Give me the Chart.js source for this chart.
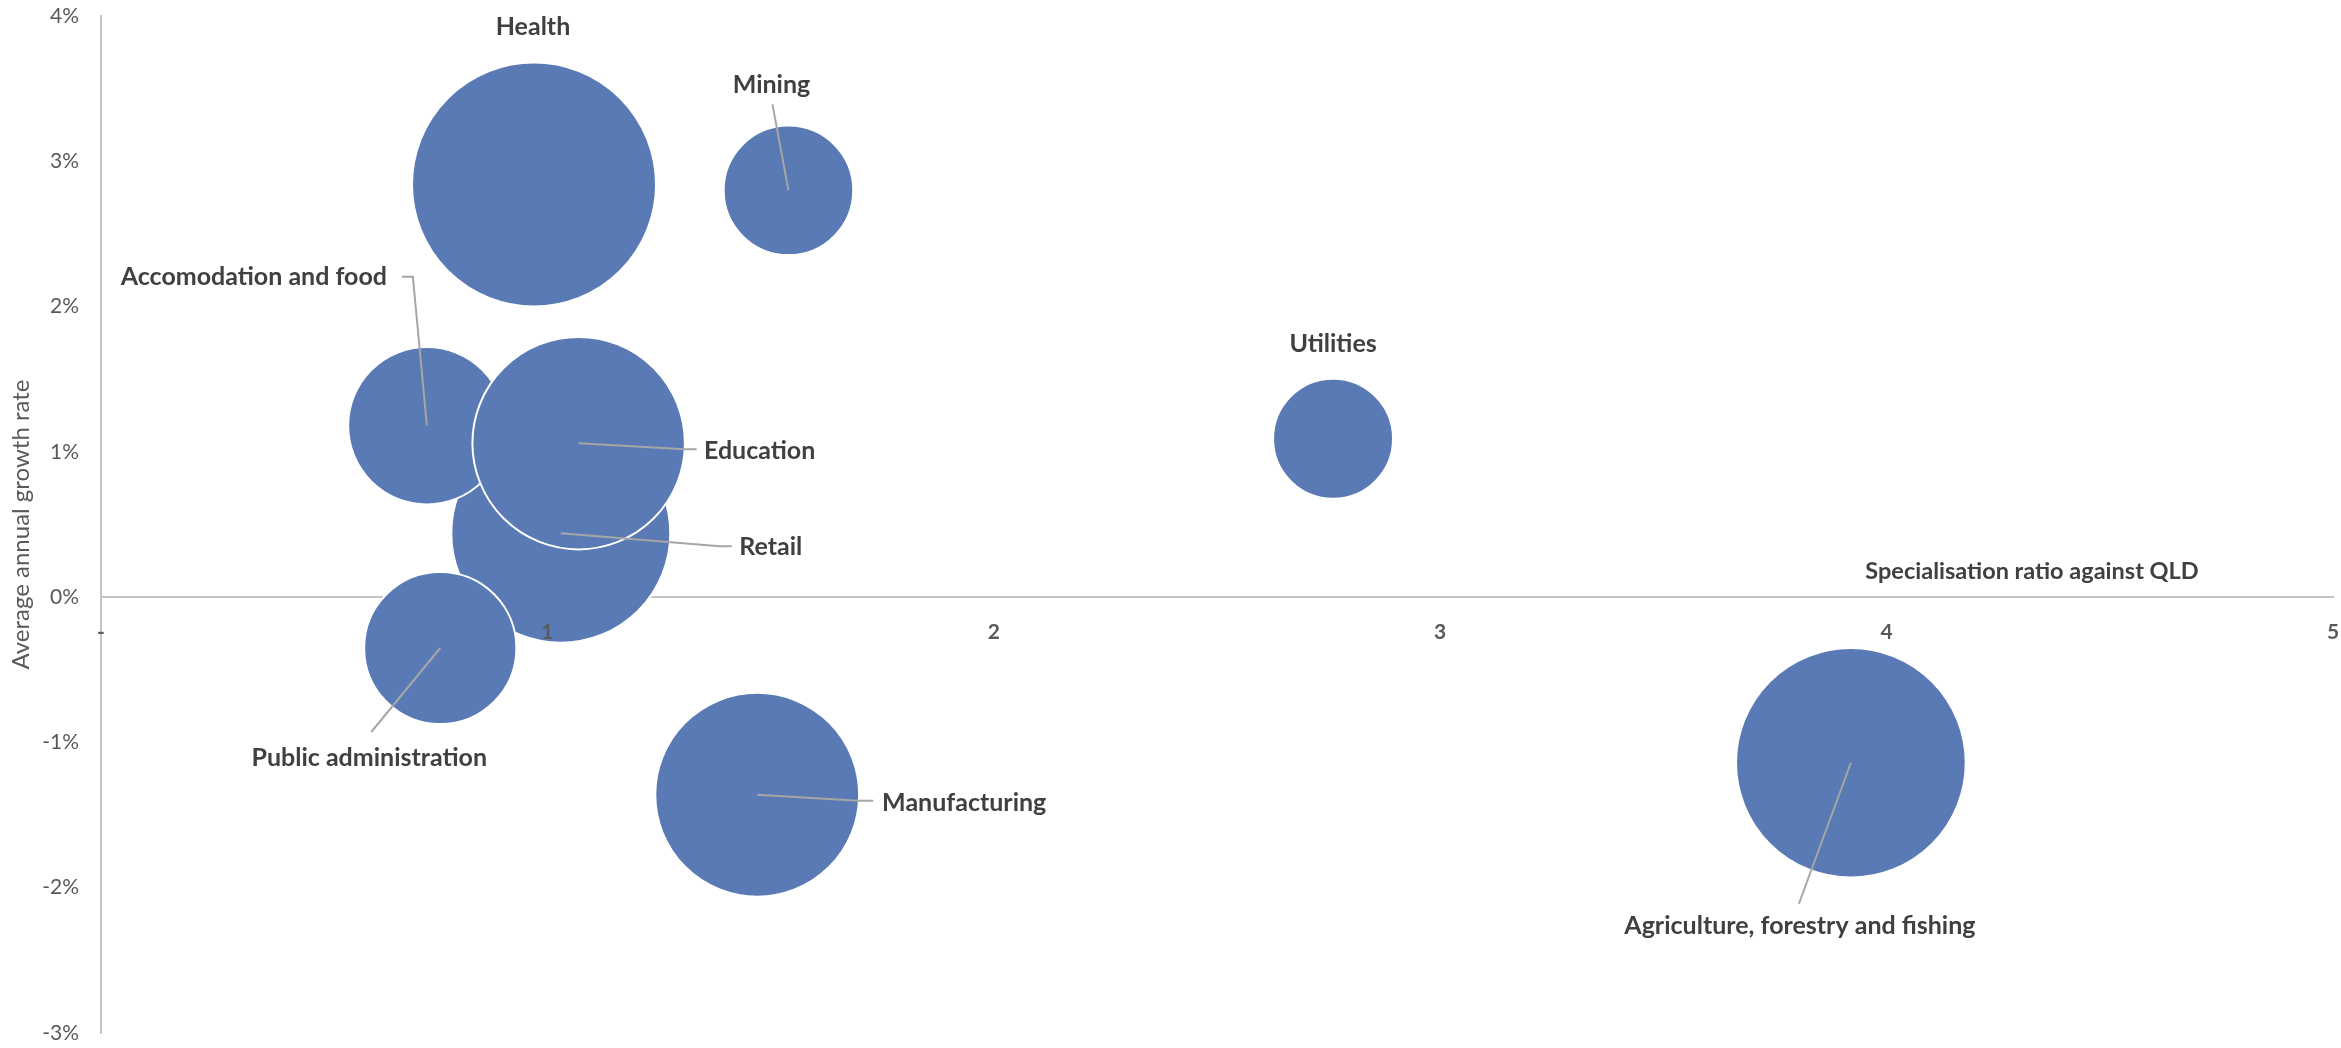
<!DOCTYPE html>
<html>
<head>
<meta charset="utf-8">
<script src="https://cdn.jsdelivr.net/npm/chart.js@4.4.0/dist/chart.umd.min.js"></script>
<style>
  html, body { margin: 0; padding: 0; background: #fff; }
  #wrap { width: 2341px; height: 1048px; }
</style>
</head>
<body>
<div id="wrap"><canvas id="bubbleChart"></canvas></div>
<script>
// Industries, in drawing order (later ones sit on top)
const sectors = ['Agriculture, forestry and fishing', 'Mining', 'Manufacturing', 'Utilities', 'Retail',
                 'Accomodation and food', 'Public administration', 'Education', 'Health'];
const specRatio = [3.92, 1.54, 1.47, 2.76, 1.03, 0.73, 0.76, 1.07, 0.97];
const growthRate = [-1.14, 2.80, -1.36, 1.09, 0.44, 1.18, -0.35, 1.06, 2.84];   // % per year
const jobsShare = [13.2, 4.2, 10.4, 3.6, 12.0, 6.2, 5.8, 11.3, 14.9];           // bubble size

const xTicks = [0, 1, 2, 3, 4, 5];
const yTicks = [-3, -2, -1, 0, 1, 2, 3, 4];

// label placement relative to each bubble centre, plus leader line points
const labelOffsets = [[-51, 163], [-17, -105], [207, 8], [0, -95], [210, 14], [-173, -149], [-71, 110], [181, 8], [-1, -158]];
const leaders = [
    [[0, 0], [-52, 141]],
    [[0, 0], [-16, -86]],
    [[0, 0], [101, 6], [116, 6]],
    null,
    [[0, 0], [159, 13], [171, 13]],
    [[0, 0], [-14, -149], [-25, -149]],
    [[0, 0], [-69, 84]],
    [[0, 0], [106, 6], [118, 6]],
    null
];

const maxRadius = 122;
const maxShare = Math.max(...jobsShare);
const points = sectors.map((s, i) => ({
    x: specRatio[i],
    y: growthRate[i],
    r: maxRadius * Math.sqrt(jobsShare[i] / maxShare)
}));

const bubbleLabels = {
    id: 'bubbleLabels',
    afterDatasetsDraw(chart) {
        const ctx = chart.ctx;
        const meta = chart.getDatasetMeta(0);
        ctx.save();
        // leader lines
        ctx.strokeStyle = '#A6A6A6';
        ctx.lineWidth = 2;
        meta.data.forEach((el, i) => {
            const pts = leaders[i];
            if (!pts) return;
            ctx.beginPath();
            pts.forEach((p, j) => {
                if (j === 0) ctx.moveTo(el.x + p[0], el.y + p[1]);
                else ctx.lineTo(el.x + p[0], el.y + p[1]);
            });
            ctx.stroke();
        });
        // names
        ctx.fillStyle = '#404040';
        ctx.font = 'bold 25px Lato';
        ctx.textAlign = 'center';
        ctx.textBaseline = 'middle';
        meta.data.forEach((el, i) => {
            ctx.fillText(sectors[i], el.x + labelOffsets[i][0], el.y + labelOffsets[i][1]);
        });
        // x axis title, sits above the axis at the right
        ctx.font = 'bold 23.5px Lato';
        ctx.fillText('Specialisation ratio against QLD', 2032, 571);
        ctx.restore();
    }
};

// keep the tick label overhang from shrinking the plot area
function noEdgePadding(scale) {
    scale.paddingTop = 0;
    scale.paddingBottom = 0;
    scale.paddingLeft = 0;
    scale.paddingRight = 0;
}

const ctx = document.getElementById('bubbleChart').getContext('2d');
new Chart(ctx, {
    type: 'bubble',
    data: {
        datasets: [{
            label: 'Industries',
            data: points,
            backgroundColor: '#5A7AB5',
            borderColor: '#FFFFFF',
            borderWidth: 2
        }]
    },
    options: {
        responsive: true,
        maintainAspectRatio: false,
        animation: false,
        events: [],
        layout: { autoPadding: false, padding: { left: 0, top: 16, right: 8, bottom: 15 } },
        plugins: {
            legend: { display: false },
            tooltip: { enabled: false }
        },
        scales: {
            x: {
                type: 'linear',
                min: 0,
                max: 5,
                position: { y: 0 },
                afterFit: scale => { scale.height = 0; noEdgePadding(scale); },
                afterBuildTicks: scale => { scale.ticks = xTicks.map(v => ({ value: v })); },
                grid: { display: false, drawTicks: false },
                border: { display: true, color: '#C4C4C4', width: 2 },
                ticks: {
                    z: 1,
                    padding: 22,
                    color: '#595959',
                    font: { family: 'Lato', size: 21, weight: 'bold' },
                    maxRotation: 0,
                    callback: v => v === 0 ? '-' : v
                }
            },
            y: {
                type: 'linear',
                min: -3,
                max: 4,
                afterFit: scale => { scale.width = 101; noEdgePadding(scale); },
                afterBuildTicks: scale => { scale.ticks = yTicks.map(v => ({ value: v })); },
                grid: { display: false, drawTicks: false },
                border: { display: true, color: '#C4C4C4', width: 2 },
                ticks: {
                    padding: 22,
                    color: '#595959',
                    font: { family: 'Lato', size: 21 },
                    callback: v => v + '%'
                },
                title: {
                    display: true,
                    text: 'Average annual growth rate',
                    color: '#595959',
                    font: { family: 'Lato', size: 24 },
                    padding: { top: 7, bottom: 0 }
                }
            }
        }
    },
    plugins: [bubbleLabels]
});
</script>
</body>
</html>
